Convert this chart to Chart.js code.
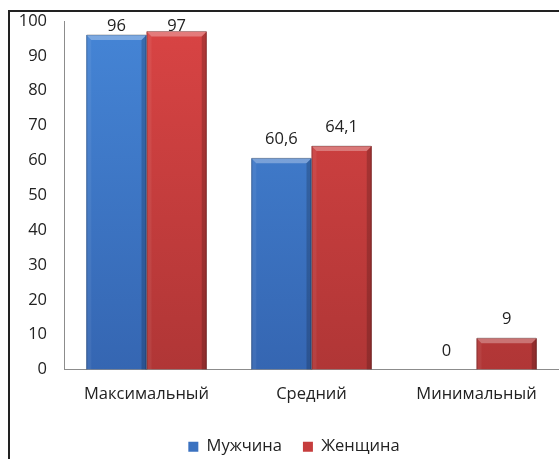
<!DOCTYPE html>
<html>
<head>
<meta charset="utf-8">
<script src="https://cdn.jsdelivr.net/npm/chart.js@4"></script>
<style>
  html, body { margin: 0; padding: 0; background: #fff; overflow: hidden; }
  #wrap { position: relative; width: 559px; height: 459px; overflow: hidden; }
  #frame {
    position: absolute; left: 8px; top: 10px; width: 700px; height: 600px;
    border-left: 2px solid #222; border-top: 2px solid #222; pointer-events: none;
  }
  canvas { position: absolute; left: 0; top: 0; }
</style>
</head>
<body>
<div id="wrap">
  <canvas id="chart" width="617" height="465" style="width:617px;height:465px"></canvas>
  <div id="frame"></div>
</div>
<script>
// Chart data
const categories = ["Максимальный", "Средний", "Минимальный"];
const seriesNames = ["Мужчина", "Женщина"];
const maleValues = [96, 60.6, 0];
const femaleValues = [97, 64.1, 9];
const yMin = 0;
const yMax = 100;
const yStep = 10;

const FONT = "'Open Sans', sans-serif";
const FONT_SIZE = 16.5;

// vertical gradient for the bars, built from the chart area
function barGradient(top, bottom) {
  return function (context) {
    const chart = context.chart;
    const area = chart.chartArea;
    if (!area) return top;
    const g = chart.ctx.createLinearGradient(0, area.top, 0, area.bottom);
    g.addColorStop(0, top);
    g.addColorStop(1, bottom);
    return g;
  };
}

function fmt(v) {
  return String(v).replace(".", ",");
}

// Excel-ish bevel on each bar
const bevelPlugin = {
  id: "bevel",
  afterDatasetsDraw(chart) {
    const ctx = chart.ctx;
    chart.data.datasets.forEach((ds, i) => {
      const meta = chart.getDatasetMeta(i);
      meta.data.forEach((bar) => {
        const left = bar.x - bar.width / 2;
        const right = bar.x + bar.width / 2;
        const top = bar.y;
        const bottom = bar.base;
        if (bottom - top < 1) return;
        const b = Math.min(5, (bottom - top) / 2);
        ctx.save();
        // top highlight
        ctx.beginPath();
        ctx.moveTo(left, top);
        ctx.lineTo(right, top);
        ctx.lineTo(right - b, top + b);
        ctx.lineTo(left + b, top + b);
        ctx.closePath();
        ctx.fillStyle = "rgba(255,255,255,0.3)";
        ctx.fill();
        // left edge
        ctx.beginPath();
        ctx.moveTo(left, top);
        ctx.lineTo(left + b, top + b);
        ctx.lineTo(left + b, bottom);
        ctx.lineTo(left, bottom);
        ctx.closePath();
        ctx.fillStyle = "rgba(255,255,255,0.06)";
        ctx.fill();
        // right edge
        ctx.beginPath();
        ctx.moveTo(right, top);
        ctx.lineTo(right - b, top + b);
        ctx.lineTo(right - b, bottom);
        ctx.lineTo(right, bottom);
        ctx.closePath();
        ctx.fillStyle = "rgba(0,0,0,0.18)";
        ctx.fill();
        // thin dark outline on the sides
        ctx.strokeStyle = "rgba(0,0,0,0.25)";
        ctx.lineWidth = 1;
        ctx.beginPath();
        ctx.moveTo(left + 0.5, bottom);
        ctx.lineTo(left + 0.5, top);
        ctx.lineTo(right - 0.5, top);
        ctx.lineTo(right - 0.5, bottom);
        ctx.stroke();
        ctx.restore();
      });
    });
  },
};

// value labels above the bars
const valueLabelPlugin = {
  id: "valueLabels",
  afterDatasetsDraw(chart) {
    const ctx = chart.ctx;
    ctx.save();
    ctx.font = FONT_SIZE + "px " + FONT;
    ctx.fillStyle = "#222";
    ctx.textAlign = "center";
    ctx.textBaseline = "alphabetic";
    chart.data.datasets.forEach((ds, i) => {
      const meta = chart.getDatasetMeta(i);
      meta.data.forEach((bar, j) => {
        const y = Math.max(bar.y - 14, chart.chartArea.top + 10);
        ctx.fillText(fmt(ds.data[j]), bar.x, y);
      });
    });
    ctx.restore();
  },
};

// legend in the original sits a little right of the canvas centre
const legendShift = 14.5;
const legendShiftPlugin = {
  id: "legendShift",
  afterLayout(chart) {
    if (chart.legend) {
      chart.legend.left += legendShift;
      chart.legend.right += legendShift;
    }
  },
};

const ctx = document.getElementById("chart").getContext("2d");

new Chart(ctx, {
  type: "bar",
  data: {
    labels: categories,
    datasets: [
      {
        label: seriesNames[0],
        data: maleValues,
        backgroundColor: barGradient("#4585d6", "#3566b2"),
        legendColor: "#3b72c0",
        borderWidth: 0,
      },
      {
        label: seriesNames[1],
        data: femaleValues,
        backgroundColor: barGradient("#d94444", "#b03636"),
        legendColor: "#c63d3d",
        borderWidth: 0,
      },
    ],
  },
  options: {
    responsive: false,
    animation: false,
    devicePixelRatio: 1,
    layout: {
      padding: { left: 0, right: 58, top: 21, bottom: 0 },
    },
    datasets: {
      bar: {
        categoryPercentage: 0.73,
        barPercentage: 1.0,
      },
    },
    plugins: {
      legend: {
        position: "bottom",
        labels: {
          font: { family: FONT, size: FONT_SIZE },
          color: "#222",
          boxWidth: 10,
          boxHeight: 10,
          padding: 21,
          generateLabels(chart) {
            return chart.data.datasets.map((ds, i) => ({
              text: ds.label,
              fillStyle: ds.legendColor,
              strokeStyle: ds.legendColor,
              lineWidth: 0,
              datasetIndex: i,
              fontColor: "#222",
            }));
          },
        },
      },
      tooltip: { enabled: false },
    },
    scales: {
      x: {
        grid: { display: false, drawTicks: false },
        border: { display: true, color: "#8c8c8c", width: 1 },
        ticks: {
          font: { family: FONT, size: FONT_SIZE },
          color: "#222",
          padding: 15,
        },
        afterFit(scale) {
          scale.height = 48;
        },
      },
      y: {
        min: yMin,
        max: yMax,
        grid: { display: false, drawTicks: false },
        border: { display: true, color: "#8c8c8c", width: 1 },
        ticks: {
          stepSize: yStep,
          font: { family: FONT, size: FONT_SIZE },
          color: "#222",
          padding: 17,
        },
        afterFit(scale) {
          scale.width = 64;
          scale.paddingTop = 0;
          scale.paddingBottom = 0;
        },
      },
    },
  },
  plugins: [bevelPlugin, valueLabelPlugin, legendShiftPlugin],
});
</script>
</body>
</html>
